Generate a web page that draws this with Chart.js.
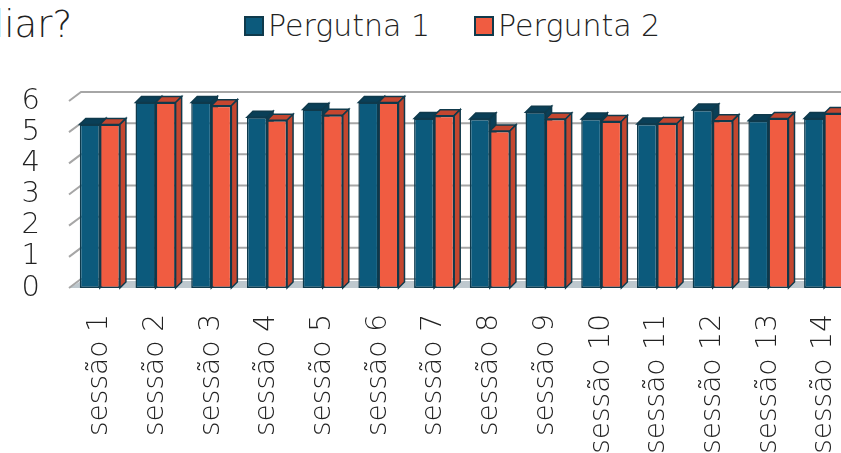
<!DOCTYPE html>
<html lang="pt">
<head>
    <meta charset="UTF-8">
    <title>Sessões</title>
    <script src="https://cdn.jsdelivr.net/npm/chart.js"></script>
    <style>
        html, body { margin: 0; padding: 0; background: #fff; overflow: hidden; }
        body { width: 841px; height: 453px; position: relative; font-family: "DejaVu Sans", sans-serif; font-weight: 300; color: #222; }
        #titulo { position: absolute; left: -6px; top: 3px; font-size: 37px; line-height: 44px; }
        #legenda { position: absolute; left: 244px; top: 8px; display: flex; gap: 44px; font-size: 30px; line-height: 36px; }
        #legenda .item { display: flex; align-items: center; }
        #legenda .caixa { width: 16px; height: 16px; border: 2px solid #0f3a4c; margin-right: 4px; }
        #grafico { position: absolute; left: 0; top: 0; }
    </style>
</head>
<body>
    <div id="titulo">liar?</div>
    <div id="legenda"></div>
    <canvas id="grafico" width="870" height="453"></canvas>
<script>
    const sessoes = ["sessão 1", "sessão 2", "sessão 3", "sessão 4", "sessão 5", "sessão 6", "sessão 7",
                     "sessão 8", "sessão 9", "sessão 10", "sessão 11", "sessão 12", "sessão 13", "sessão 14"];
    const pergunta1 = [5.25, 5.95, 5.95, 5.48, 5.73, 5.95, 5.44, 5.42, 5.64, 5.42, 5.26, 5.71, 5.37, 5.44];
    const pergunta2 = [5.25, 5.95, 5.85, 5.38, 5.54, 5.95, 5.53, 5.04, 5.42, 5.34, 5.28, 5.37, 5.44, 5.6];
    const ticksY = [0, 1, 2, 3, 4, 5, 6];

    const fonte = "'DejaVu Sans', sans-serif";
    const prof = 6;      // profundidade das barras
    const parede = 9;    // deslocamento da parede do fundo

    // faces de cima e do lado, chao e grade do fundo (efeito 3D)
    const efeito3d = {
        id: "efeito3d",
        beforeDatasetsDraw(chart) {
            const ctx = chart.ctx;
            const a = chart.chartArea;
            const y = chart.scales.y;
            ctx.save();

            ctx.fillStyle = "#bec8ce";
            ctx.beginPath();
            ctx.moveTo(a.left - 3, a.bottom);
            ctx.lineTo(a.right + 20, a.bottom);
            ctx.lineTo(a.right + 20, a.bottom - parede + 2);
            ctx.lineTo(a.left + parede, a.bottom - parede + 2);
            ctx.closePath();
            ctx.fill();

            ctx.strokeStyle = "#a6a6a6";
            ctx.lineWidth = 2;
            ticksY.forEach(v => {
                const py = y.getPixelForValue(v);
                ctx.beginPath();
                ctx.moveTo(a.left - 3, py);
                ctx.lineTo(a.left + parede, py - parede);
                ctx.lineTo(a.right + 20, py - parede);
                ctx.stroke();
            });

            chart.data.datasets.forEach((ds, i) => {
                chart.getDatasetMeta(i).data.forEach(bar => {
                    const p = bar.getProps(["x", "y", "width", "base"], true);
                    const l = p.x - p.width / 2;
                    const r = p.x + p.width / 2;
                    ctx.fillStyle = ds.corTopo;
                    ctx.strokeStyle = ds.borderColor;
                    ctx.lineWidth = 1.5;
                    ctx.beginPath();
                    ctx.moveTo(l, p.y);
                    ctx.lineTo(l + prof, p.y - prof);
                    ctx.lineTo(r + prof, p.y - prof);
                    ctx.lineTo(r, p.y);
                    ctx.closePath();
                    ctx.fill();
                    ctx.stroke();
                    ctx.fillStyle = ds.corLado;
                    ctx.beginPath();
                    ctx.moveTo(r, p.y);
                    ctx.lineTo(r + prof, p.y - prof);
                    ctx.lineTo(r + prof, p.base - prof);
                    ctx.lineTo(r, p.base);
                    ctx.closePath();
                    ctx.fill();
                    ctx.stroke();
                });
            });
            ctx.restore();
        }
    };

    const chart = new Chart(document.getElementById("grafico"), {
        type: "bar",
        data: {
            labels: sessoes,
            datasets: [{
                label: "Pergutna 1",
                data: pergunta1,
                backgroundColor: "#0c5a7c",
                corTopo: "#0a3f57",
                corLado: "#0a3f57",
                borderColor: "#0f3a4c",
                borderWidth: 1.5,
                borderSkipped: false
            }, {
                label: "Pergunta 2",
                data: pergunta2,
                backgroundColor: "#f05c41",
                corTopo: "#c4462f",
                corLado: "#c4462f",
                borderColor: "#0f3a4c",
                borderWidth: 1.5,
                borderSkipped: false
            }]
        },
        options: {
            responsive: false,
            animation: false,
            barPercentage: 1,
            categoryPercentage: 0.72,
            layout: { padding: { top: 101, right: 18, left: 0, bottom: 0 } },
            plugins: {
                legend: { display: false },
                title: { display: false },
                tooltip: { enabled: false }
            },
            scales: {
                x: {
                    grid: { display: false },
                    border: { display: false },
                    ticks: {
                        autoSkip: false,
                        minRotation: 90,
                        maxRotation: 90,
                        padding: 18,
                        color: "#222",
                        font: { family: fonte, size: 28, weight: 300 }
                    },
                    afterFit: s => { s.height = 165; s.paddingLeft = 0; s.paddingRight = 0; }
                },
                y: {
                    min: 0,
                    max: 6,
                    grid: { display: false, drawTicks: false },
                    border: { display: false },
                    afterBuildTicks: s => { s.ticks = ticksY.map(v => ({ value: v })); },
                    ticks: {
                        autoSkip: false,
                        padding: 32,
                        color: "#222",
                        font: { family: fonte, size: 29, weight: 300 }
                    },
                    afterFit: s => { s.width = 72; }
                }
            }
        },
        plugins: [efeito3d]
    });

    // legenda em html, a partir dos datasets
    const legenda = document.getElementById("legenda");
    chart.data.datasets.forEach(ds => {
        const item = document.createElement("div");
        item.className = "item";
        const caixa = document.createElement("span");
        caixa.className = "caixa";
        caixa.style.background = ds.backgroundColor;
        const texto = document.createElement("span");
        texto.textContent = ds.label;
        item.appendChild(caixa);
        item.appendChild(texto);
        legenda.appendChild(item);
    });
</script>
</body>
</html>
